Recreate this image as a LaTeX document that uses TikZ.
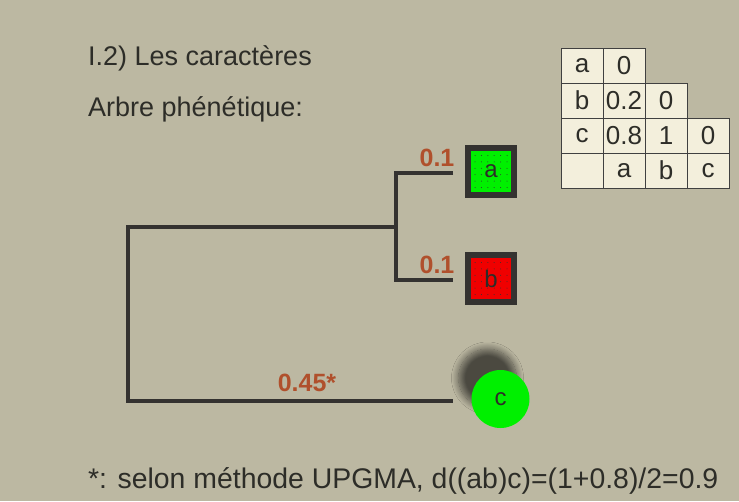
\documentclass[tikz,border=0pt]{standalone}
\usepackage{fontspec}
\setmainfont{Liberation Sans}
\usetikzlibrary{shadows.blur}
\definecolor{bg}{RGB}{188,184,162}
\definecolor{branch}{RGB}{52,50,48}
\definecolor{lbl}{RGB}{176,80,44}
\definecolor{cell}{RGB}{243,239,220}
\definecolor{gr}{RGB}{0,240,0}
\definecolor{rd}{RGB}{240,0,0}
\definecolor{ink}{RGB}{45,45,40}
\tikzset{
  branchline/.style={draw=branch,line width=4pt},
  brlabel/.style={text=lbl,font=\fontsize{25}{25}\selectfont\bfseries,inner sep=0pt},
  txt/.style={font=\fontsize{27}{27}\selectfont,text=ink,inner sep=0pt,anchor=west},
  leafbox/.style={draw=branch,line width=6pt,minimum width=46pt,minimum height=47pt,inner sep=0pt},
  leaftext/.style={font=\fontsize{24}{24}\selectfont,text=ink},
  tcell/.style={draw=black!75,line width=0.8pt,fill=cell,minimum width=42pt,minimum height=35pt,inner sep=0pt,font=\fontsize{26}{26}\selectfont,text=ink},
}
\begin{document}
\begin{tikzpicture}[x=1pt,y=-1pt]
\fill[bg] (0,0) rectangle (739,501);
\useasboundingbox (0,0) rectangle (739,501);

\node[txt] (t1) at (88,58) {I.2) Les caractères};
\node[txt] (t2) at (88,109) {Arbre phénétique:};
\node[txt,font=\fontsize{28.4}{28.4}\selectfont] (t3) at (88,481) {*: selon méthode UPGMA, d((ab)c)=(1+0.8)/2=0.9};

% table
\foreach \r/\cols in {0/{a,0},1/{b,0.2,0},2/{c,0.8,1,0},3/{,a,b,c}}{
  \foreach \v [count=\c from 0] in \cols {
    \node[tcell] (m\r\c) at (582+42*\c,65.5+35*\r) {\v};
  }
}

% leaves
\node[leafbox,fill=gr] (a) at (491,171.5) {};
\node[leafbox,fill=rd] (b) at (491,278.5) {};
\foreach \n in {a,b}{
  \foreach \i in {0,...,5}{
    \foreach \j in {0,...,5}{
      \fill[black!80] ($(\n.center)+(-16+6.4*\i,-16+6.4*\j)$) circle (0.5);
    }
  }
}
\node[leaftext] at (a) {a};
\node[leaftext] at (b) {b};

\node[circle,fill=gr,minimum width=55pt,minimum height=58pt,inner sep=0pt,
  blur shadow={shadow xshift=-13pt,shadow yshift=21pt,shadow blur radius=7pt,shadow opacity=60,shadow blur steps=12},
  font=\fontsize{24}{24}\selectfont,text=ink] (c) at (500.5,399) {c};

% tree
\coordinate (n1) at (396,173);
\coordinate (n2) at (396,280);
\coordinate (r1) at (128,227);
\coordinate (r2) at (128,401);
\coordinate (m) at (396,227);
\coordinate (ea) at (453,173);
\coordinate (eb) at (453,280);
\coordinate (ec) at (453,401);
\draw[branchline] (ea) -- (n1) -- (n2) -- (eb);
\draw[branchline] (m) -- (r1) -- (r2) -- (ec);

\node[brlabel] (la) at (437,158) {0.1};
\node[brlabel] (lb) at (437,265) {0.1};
\node[brlabel] (lc) at (307,383) {0.45*};
\end{tikzpicture}
\end{document}
